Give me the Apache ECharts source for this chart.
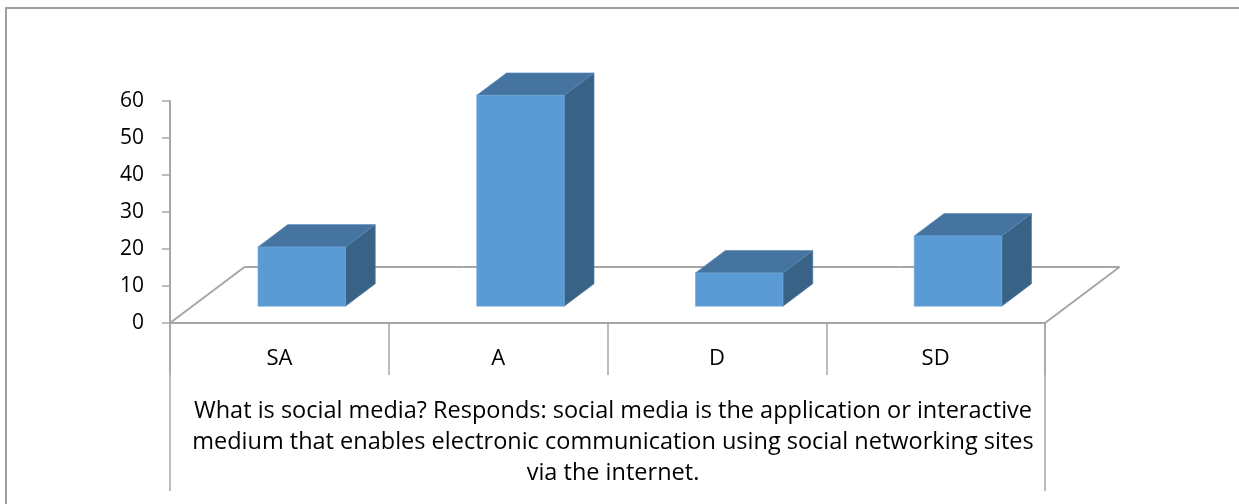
<!DOCTYPE html>
<html>
<head>
<meta charset="UTF-8">
<title>social media</title>
<script src="https://cdn.jsdelivr.net/npm/echarts@6/dist/echarts.min.js"></script>
<style>
  html, body { margin: 0; padding: 0; background: #fff; }
  #main { width: 1239px; height: 504px; }
</style>
</head>
<body>
<div id="main"></div>
<script>
	var categories = ['SA', 'A', 'D', 'SD'];
	var values = [16, 57, 9, 19];
	var yMin = 0, yMax = 60, yStep = 10;
	var caption = 'What is social media? Responds: social media is the application or interactive\n' +
		'medium that enables electronic communication using social networking sites\n' +
		'via the internet.';

	// oblique depth of the floor (px), bars sit from 0.3 to 0.7 of it
	var DEPTH = [74.5, -56];
	var lineGray = '#A6A6A6';
	var FONT = 'Open Sans';

	var myChart = echarts.init(document.getElementById('main'));

	function floorItem(params, api) {
		var i = api.value(0);
		var c = api.coord([i, 0]);
		var half = api.size([1, 0])[0] / 2;
		var l = c[0] - half, r = c[0] + half, y = c[1];
		var st = {stroke: lineGray, lineWidth: 2};
		var kids = [{
			type: 'line',
			shape: {x1: l + DEPTH[0], y1: y + DEPTH[1], x2: r + DEPTH[0], y2: y + DEPTH[1]},
			style: st
		}];
		if (i === 0) {
			kids.push({type: 'line', shape: {x1: l, y1: y, x2: l + DEPTH[0], y2: y + DEPTH[1]}, style: st});
			// outer border of the table under the axis
			kids.push({type: 'line', shape: {x1: l, y1: y, x2: l, y2: y + 168}, style: {stroke: lineGray, lineWidth: 1.5}});
		}
		if (i === categories.length - 1) {
			kids.push({type: 'line', shape: {x1: r, y1: y, x2: r + DEPTH[0], y2: y + DEPTH[1]}, style: st});
			kids.push({type: 'line', shape: {x1: r, y1: y, x2: r, y2: y + 168}, style: {stroke: lineGray, lineWidth: 1.5}});
		}
		return {type: 'group', children: kids};
	}

	function barItem(params, api) {
		var i = api.value(0);
		var base = api.coord([i, 0]);
		var top = api.coord([i, api.value(1)]);
		var w = api.size([1, 0])[0] * 0.4;
		var ox = DEPTH[0] * 0.3, oy = DEPTH[1] * 0.3;
		var dx = DEPTH[0] * 0.4, dy = DEPTH[1] * 0.4;
		var x0 = base[0] - w / 2 + ox, x1 = base[0] + w / 2 + ox;
		var yb = base[1] + oy, yt = top[1] + oy;
		return {
			type: 'group',
			children: [{
				type: 'polygon',
				shape: {points: [[x1, yb], [x1 + dx, yb + dy], [x1 + dx, yt + dy], [x1, yt]]},
				style: {fill: '#386387', stroke: '#4a7aa3', lineWidth: 0.6}
			}, {
				type: 'polygon',
				shape: {points: [[x0, yt], [x0 + dx, yt + dy], [x1 + dx, yt + dy], [x1, yt]]},
				style: {fill: '#44749F', stroke: '#5a8bb8', lineWidth: 0.6}
			}, {
				type: 'rect',
				shape: {x: x0, y: yt, width: x1 - x0, height: yb - yt},
				style: {fill: '#5B9BD5', stroke: '#6ea6da', lineWidth: 0.6}
			}]
		};
	}

	var seriesData = values.map(function (v, i) { return [i, v]; });

	var option = {
		animation: false,
		title: {
			text: caption,
			left: 608,
			top: 391,
			textAlign: 'center',
			textStyle: {
				fontFamily: FONT,
				fontSize: 23.5,
				fontWeight: 'normal',
				color: '#000',
				lineHeight: 31
			}
		},
		graphic: [{
			type: 'rect',
			shape: {x: 6, y: 8, width: 1400, height: 600},
			style: {fill: 'none', stroke: '#A0A0A0', lineWidth: 2},
			silent: true
		}],
		grid: {left: 170, right: 194, top: 101, bottom: 181},
		xAxis: {
			type: 'category',
			data: categories,
			boundaryGap: true,
			axisLine: {lineStyle: {color: lineGray, width: 2}},
			axisTick: {show: true, interval: 0, length: 52, lineStyle: {color: lineGray, width: 1.5}},
			axisLabel: {margin: 25, fontFamily: FONT, fontSize: 22, color: '#000'}
		},
		yAxis: {
			type: 'value',
			min: yMin,
			max: yMax,
			interval: yStep,
			splitLine: {show: false},
			axisLine: {show: true, lineStyle: {color: lineGray, width: 2}},
			axisTick: {show: true, length: 8, lineStyle: {color: lineGray, width: 1.5}},
			axisLabel: {margin: 26, fontFamily: FONT, fontSize: 21, color: '#000', padding: [5, 0, 0, 0]}
		},
		series: [{
			type: 'custom',
			renderItem: floorItem,
			data: seriesData,
			z: 1
		}, {
			type: 'custom',
			renderItem: barItem,
			data: seriesData,
			z: 3
		}]
	};

	myChart.setOption(option);
</script>
</body>
</html>
